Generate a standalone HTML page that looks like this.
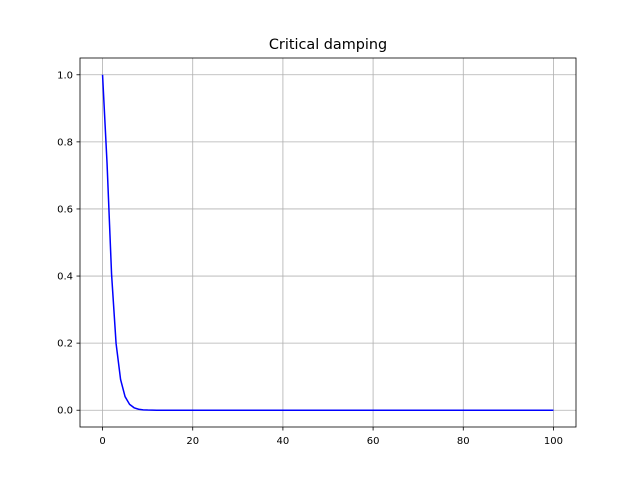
<!DOCTYPE html>
<html><head><meta charset="utf-8"><style>
html,body{margin:0;padding:0;background:#fff;}
svg text{font-family:"DejaVu Sans","Liberation Sans",sans-serif;}
</style></head><body>
<svg id="chart" width="640" height="480" xmlns="http://www.w3.org/2000/svg">
<rect width="640" height="480" fill="#fff"/>
<text x="328" y="49" font-size="14.4" text-anchor="middle">Critical damping</text>
<g id="grid"></g>
<g id="ticks"></g>
<g id="series"></g>
<rect x="80" y="58" width="496" height="369" fill="none" stroke="#000" stroke-width="0.8"/>
</svg>
<script>
const xTicks=[0,20,40,60,80,100];
const yTicks=[0.0,0.2,0.4,0.6,0.8,1.0];
const yTickLabels=["0.0","0.2","0.4","0.6","0.8","1.0"];
const xValues=[0,1,2,3,4,5,6,7,8,9,10,11,12,13,14,15,16,17,18,19,20,21,22,23,24,25,26,27,28,29,30,31,32,33,34,35,36,37,38,39,40,41,42,43,44,45,46,47,48,49,50,51,52,53,54,55,56,57,58,59,60,61,62,63,64,65,66,67,68,69,70,71,72,73,74,75,76,77,78,79,80,81,82,83,84,85,86,87,88,89,90,91,92,93,94,95,96,97,98,99,100];
const yValues=[1,0.7358,0.406,0.1991,0.0916,0.0404,0.0174,0.0073,0.003,0.0012,0.0005,0.0002,0.0001,0,0,0,0,0,0,0,0,0,0,0,0,0,0,0,0,0,0,0,0,0,0,0,0,0,0,0,0,0,0,0,0,0,0,0,0,0,0,0,0,0,0,0,0,0,0,0,0,0,0,0,0,0,0,0,0,0,0,0,0,0,0,0,0,0,0,0,0,0,0,0,0,0,0,0,0,0,0,0,0,0,0,0,0,0,0,0,0];
const L=80,R=576,T=58,B=427,xmin=-5,xmax=105,ymin=-0.05,ymax=1.05;
function sx(v){return L+(v-xmin)/(xmax-xmin)*(R-L);}
function sy(v){return B-(v-ymin)/(ymax-ymin)*(B-T);}
const NS="http://www.w3.org/2000/svg";
const grid=document.getElementById('grid'),ticks=document.getElementById('ticks'),series=document.getElementById('series');
function mk(tag,attrs,parent){const e=document.createElementNS(NS,tag);for(const k in attrs)e.setAttribute(k,attrs[k]);parent.appendChild(e);return e;}
xTicks.forEach(v=>{const x=sx(v);
 const g=mk('line',{x1:x,x2:x,y1:T,y2:B,stroke:'#b0b0b0','stroke-width':0.8},grid);
 
 
 const t=mk('line',{x1:x,x2:x,y1:B,y2:B+3.5,stroke:'#000','stroke-width':0.8},ticks);
 
 
 const l=mk('text',{x:x,y:B+17,'font-size':10,'text-anchor':'middle'},ticks);l.textContent=String(v);
 
 
});
yTicks.forEach((v,i)=>{const y=sy(v);
 const g=mk('line',{x1:L,x2:R,y1:y,y2:y,stroke:'#b0b0b0','stroke-width':0.8},grid);
 
 
 const t=mk('line',{x1:L-3.5,x2:L,y1:y,y2:y,stroke:'#000','stroke-width':0.8},ticks);
 
 
 const l=mk('text',{x:L-7,y:y+3.5,'font-size':10,'text-anchor':'end'},ticks);l.textContent=yTickLabels[i];
 
 
});
const pts=xValues.map((x,i)=>sx(x).toFixed(2)+','+sy(yValues[i]).toFixed(2)).join(' ');
const p=mk('polyline',{points:pts,fill:'none',stroke:'#0000ff','stroke-width':1.5},series);


</script>
</body></html>
